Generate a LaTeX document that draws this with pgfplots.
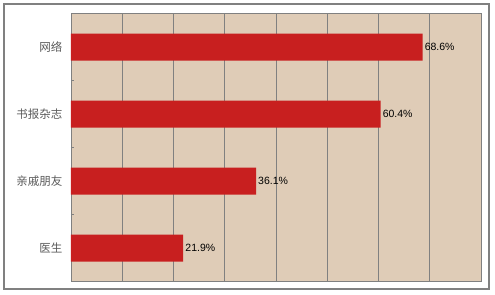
\documentclass[border=0pt]{standalone}
\usepackage{fontspec}
\setmainfont{Liberation Sans}
\newfontfamily\cjk{Noto Sans CJK SC}
\usepackage{pgfplots}
\pgfplotsset{compat=1.18}
\definecolor{bg}{HTML}{DFCCB7}
\definecolor{barred}{HTML}{C81F1F}
\definecolor{lab}{HTML}{5A5A5A}
\definecolor{gridc}{HTML}{808080}
\begin{document}
\begin{tikzpicture}
\begin{axis}[
  scale only axis, width=410bp, height=268bp,
  xbar, bar width=27bp,
  xmin=0, xmax=80, ymin=-0.5, ymax=3.5,
  xtick={10,20,...,70}, xticklabels={},
  xmajorgrids, major grid style={draw=gridc, line width=0.9bp},
  major tick length=0pt,
  ytick={0,1,2,3}, yticklabels={医生,亲戚朋友,书报杂志,网络},
  yticklabel style={font=\cjk\fontsize{11.5bp}{13bp}\selectfont, text=lab, xshift=-5bp},
  minor ytick={0.5,1.5,2.5}, minor tick length=3bp,
  minor tick style={draw=gridc},
  tick pos=left, tick align=inside,
  axis background/.style={fill=bg},
  axis line style={draw=gridc, line width=0.9bp},
  clip=false,
  nodes near coords={\pgfmathprintnumber[fixed,precision=1,fixed zerofill,assume math mode=true]{\pgfplotspointmeta}\%},
  nodes near coords align={horizontal},
  every node near coord/.append style={font=\fontsize{10.5bp}{12bp}\selectfont, text=black, inner sep=2bp},
]
\addplot[fill=barred, draw=none] coordinates {(21.9,0) (36.1,1) (60.4,2) (68.6,3)};
\draw[gridc, line width=1.2bp] ([shift={(-67bp,-7.5bp)}]rel axis cs:0,0) rectangle ([shift={(8bp,9.5bp)}]rel axis cs:1,1);
\path ([shift={(-71bp,-13.5bp)}]rel axis cs:0,0) rectangle ([shift={(14bp,13.5bp)}]rel axis cs:1,1);
\end{axis}
\end{tikzpicture}
\end{document}
